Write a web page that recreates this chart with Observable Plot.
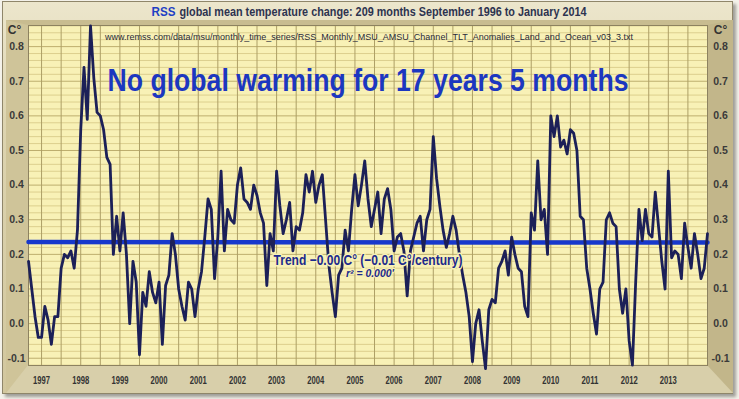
<!DOCTYPE html>
<html>
<head>
<meta charset="utf-8">
<script src="https://cdn.jsdelivr.net/npm/d3@7"></script>
<script src="https://cdn.jsdelivr.net/npm/@observablehq/plot@0.6"></script>
<style>
html,body{margin:0;padding:0;background:#f4f2ea;}
#wrap{position:relative;width:739px;height:399px;overflow:hidden;}
#outer{position:absolute;left:2px;top:1px;width:731px;height:393px;box-sizing:border-box;background:linear-gradient(#ece6cc,#ddd4b0 30%,#d2c79e);border:1px solid #8f866a;box-shadow:3px 3px 3px rgba(0,0,0,0.35);}
#bevel{position:absolute;left:6px;top:20px;width:727px;height:373px;box-sizing:border-box;border-style:solid;border-width:5px 26px 28px 22px;border-color:#c8bc90 #c2b68a #d8cfaa #cfc499;}
#chart{position:absolute;left:0;top:0;}
</style>
</head>
<body>
<div id="wrap"><div id="outer"></div><div id="bevel"></div><div id="chart"></div></div>
<script>
// Monthly RSS TLT anomalies (°C), September 1996 – January 2014
const m1996 = [0.18, 0.10, 0.02, -0.04]; // Sep–Dec
const m1997 = [-0.04, 0.05, 0.01, -0.06, 0.02, 0.02, 0.16, 0.20, 0.19, 0.21, 0.16, 0.27];
const m1998 = [0.56, 0.74, 0.59, 0.86, 0.71, 0.61, 0.60, 0.56, 0.48, 0.46, 0.20, 0.31];
const m1999 = [0.21, 0.32, 0.20, 0.00, 0.18, 0.12, -0.09, 0.09, 0.05, 0.15, 0.09, 0.06];
const m2000 = [0.12, -0.06, 0.11, 0.14, 0.26, 0.20, 0.10, 0.05, 0.01, 0.12, 0.10, 0.02];
const m2001 = [0.10, 0.15, 0.25, 0.36, 0.33, 0.13, 0.25, 0.44, 0.21, 0.33, 0.30, 0.29];
const m2002 = [0.40, 0.45, 0.36, 0.35, 0.33, 0.40, 0.37, 0.32, 0.29, 0.11, 0.26, 0.21];
const m2003 = [0.44, 0.34, 0.26, 0.30, 0.35, 0.21, 0.28, 0.27, 0.32, 0.43, 0.38, 0.44];
const m2004 = [0.35, 0.40, 0.43, 0.30, 0.17, 0.09, 0.02, 0.14, 0.16, 0.27, 0.21, 0.33];
const m2005 = [0.43, 0.34, 0.40, 0.47, 0.36, 0.28, 0.33, 0.38, 0.26, 0.36, 0.39, 0.33];
const m2006 = [0.21, 0.25, 0.26, 0.21, 0.08, 0.21, 0.25, 0.29, 0.31, 0.21, 0.30, 0.33];
const m2007 = [0.54, 0.42, 0.34, 0.27, 0.22, 0.26, 0.31, 0.27, 0.20, 0.14, 0.09, 0.02];
const m2008 = [-0.11, 0.00, 0.04, -0.05, -0.13, 0.04, 0.07, 0.06, 0.16, 0.18, 0.21, 0.14];
const m2009 = [0.25, 0.20, 0.16, 0.15, 0.05, 0.02, 0.32, 0.27, 0.47, 0.30, 0.33, 0.20];
const m2010 = [0.60, 0.54, 0.60, 0.51, 0.53, 0.49, 0.56, 0.55, 0.50, 0.31, 0.30, 0.16];
const m2011 = [0.10, 0.03, -0.03, 0.10, 0.12, 0.30, 0.32, 0.29, 0.28, 0.10, 0.03, 0.10];
const m2012 = [-0.05, -0.12, 0.12, 0.33, 0.24, 0.33, 0.26, 0.25, 0.38, 0.28, 0.18, 0.10];
const m2013 = [0.44, 0.19, 0.21, 0.20, 0.13, 0.29, 0.22, 0.16, 0.26, 0.20, 0.13, 0.16];
const m2014 = [0.26]; // Jan

const seriesYears = [1996, 1997, 1998, 1999, 2000, 2001, 2002, 2003, 2004, 2005, 2006, 2007, 2008, 2009, 2010, 2011, 2012, 2013, 2014];
const seriesValues = [m1996, m1997, m1998, m1999, m2000, m2001, m2002, m2003, m2004, m2005, m2006, m2007, m2008, m2009, m2010, m2011, m2012, m2013, m2014];
const firstMonth = 8; // September (0-based)

// Least-squares trend endpoints: -0.00 °C (-0.01 °C/century)
const trendTimes = [1996 + 8 / 12, 2014];
const trendValues = [0.236, 0.234];

const yearTicks = [1997, 1998, 1999, 2000, 2001, 2002, 2003, 2004, 2005, 2006, 2007, 2008, 2009, 2010, 2011, 2012, 2013];
const yTicks = [-0.1, 0.0, 0.1, 0.2, 0.3, 0.4, 0.5, 0.6, 0.7, 0.8];

const titleLead = ["RSS"];
const titleRest = ["global mean temperature change: 209 months September 1996 to January 2014"];
const sourceText = ["www.remss.com/data/msu/monthly_time_series/RSS_Monthly_MSU_AMSU_Channel_TLT_Anomalies_Land_and_Ocean_v03_3.txt"];
const headline = ["No global warming for 17 years 5 months"];
const trendText = ["Trend \u22120.00 C\u00b0 (\u22120.01 C\u00b0/century)"];
const r2Text = ["r\u00b2 = 0.000'"];
const unitText = ["C\u00b0"];

const data = [];
seriesValues.forEach((arr, k) => {
  const start = k === 0 ? firstMonth : 0;
  arr.forEach((v, j) => data.push({t: seriesYears[k] + (start + j) / 12, v}));
});
const trend = trendTimes.map((t, i) => ({t, v: trendValues[i]}));

// grid positions
const halfYears = d3.range(1997, 2014, 0.5);
const minorY = d3.range(-12, 87, 2).map(d => d / 100).filter(d => Math.round(d * 100) % 10 !== 0);

const font = "'Liberation Sans', Arial, sans-serif";
const lbl = {lineAnchor: "middle", textAnchor: "middle"};
const bg = "#f8f1b6";

const chart = Plot.plot({
  width: 739,
  height: 399,
  marginLeft: 28,
  marginRight: 32,
  marginTop: 25,
  marginBottom: 34,
  style: {background: "transparent", fontFamily: font, overflow: "visible"},
  x: {domain: [1996 + 8 / 12, 2014], label: null},
  y: {domain: [-0.121, 0.861], label: null},
  marks: [
    Plot.frame({fill: bg}),
    Plot.ruleY(minorY, {stroke: "#dccf8e", strokeWidth: 1}),
    Plot.ruleY(yTicks, {stroke: "#bdae6e", strokeWidth: 1}),
    Plot.ruleX(halfYears, {stroke: "#ad9f66", strokeWidth: 1}),
    Plot.frame({stroke: "#8d8260", strokeWidth: 1}),
    Plot.axisY(yTicks, {anchor: "left", label: null, tickSize: 0, tickPadding: 0, textAnchor: "middle", dx: -12, tickFormat: d => d.toFixed(1), fontSize: 10.5, fontWeight: "bold", fill: "#3a3a3a"}),
    Plot.axisY(yTicks, {anchor: "right", label: null, tickSize: 0, tickPadding: 0, textAnchor: "middle", dx: 13, tickFormat: d => d.toFixed(1), fontSize: 10.5, fontWeight: "bold", fill: "#3a3a3a"}),
    Plot.axisX(yearTicks, {anchor: "bottom", label: null, tickSize: 0, tickPadding: 11, tickFormat: d => String(d), fontSize: 11, fontWeight: "bold", fill: "#333"}),
    Plot.text(unitText, {...lbl, text: d => d, frameAnchor: "top-left", dx: -14, dy: 5, fontSize: 12, fontWeight: "bold", fill: "#333"}),
    Plot.text(unitText, {...lbl, text: d => d, frameAnchor: "top-right", dx: 13, dy: 5, fontSize: 12, fontWeight: "bold", fill: "#333"}),
    Plot.text(titleLead, {lineAnchor: "middle", textAnchor: "start", text: d => d, frameAnchor: "top-left", dx: 123, dy: -14, fontSize: 13, fontWeight: "bold", fill: "#1f3fc4"}),
    Plot.text(titleRest, {lineAnchor: "middle", textAnchor: "start", text: d => d, frameAnchor: "top-left", dx: 151, dy: -14, fontSize: 13, fontWeight: "bold", fill: "#2d3350"}),
    Plot.text(sourceText, {...lbl, text: d => d, frameAnchor: "top", dy: 12, dx: 1, fontSize: 9, fill: "#2a2a3a"}),
    Plot.line(trend, {x: "t", y: "v", stroke: "#1738cc", strokeWidth: 4.5}),
    Plot.line(data, {x: "t", y: "v", stroke: "#1c2058", strokeWidth: 2.8, strokeLinejoin: "round"}),
    Plot.text(headline, {...lbl, text: d => d, frameAnchor: "top", dy: 56, dx: 0, fontSize: 31, fontWeight: "bold", fill: "#1c37c0"}),
    Plot.text(trendText, {...lbl, text: d => d, frameAnchor: "top", dy: 235, dx: 0, fontSize: 15, fontWeight: "bold", fill: "#1d2a8c", stroke: bg, strokeWidth: 3, paintOrder: "stroke"}),
    Plot.text(r2Text, {...lbl, text: d => d, frameAnchor: "top", dy: 248, dx: 2, fontSize: 10, fontWeight: "bold", fontStyle: "italic", fill: "#1d2a8c", stroke: bg, strokeWidth: 2, paintOrder: "stroke"})
  ]
});

document.getElementById("chart").appendChild(chart);

const svg = d3.select(chart);
function fit(content, len) {
  svg.selectAll("text").filter(function() { return this.textContent === content; })
    .attr("textLength", len).attr("lengthAdjust", "spacingAndGlyphs");
}
fit(titleLead[0], 24);
fit(titleRest[0], 407);
fit(sourceText[0], 528);
fit(headline[0], 521);
fit(trendText[0], 189);
fit(r2Text[0], 48);
yearTicks.forEach(y => fit(String(y), 17));
</script>
</body>
</html>
